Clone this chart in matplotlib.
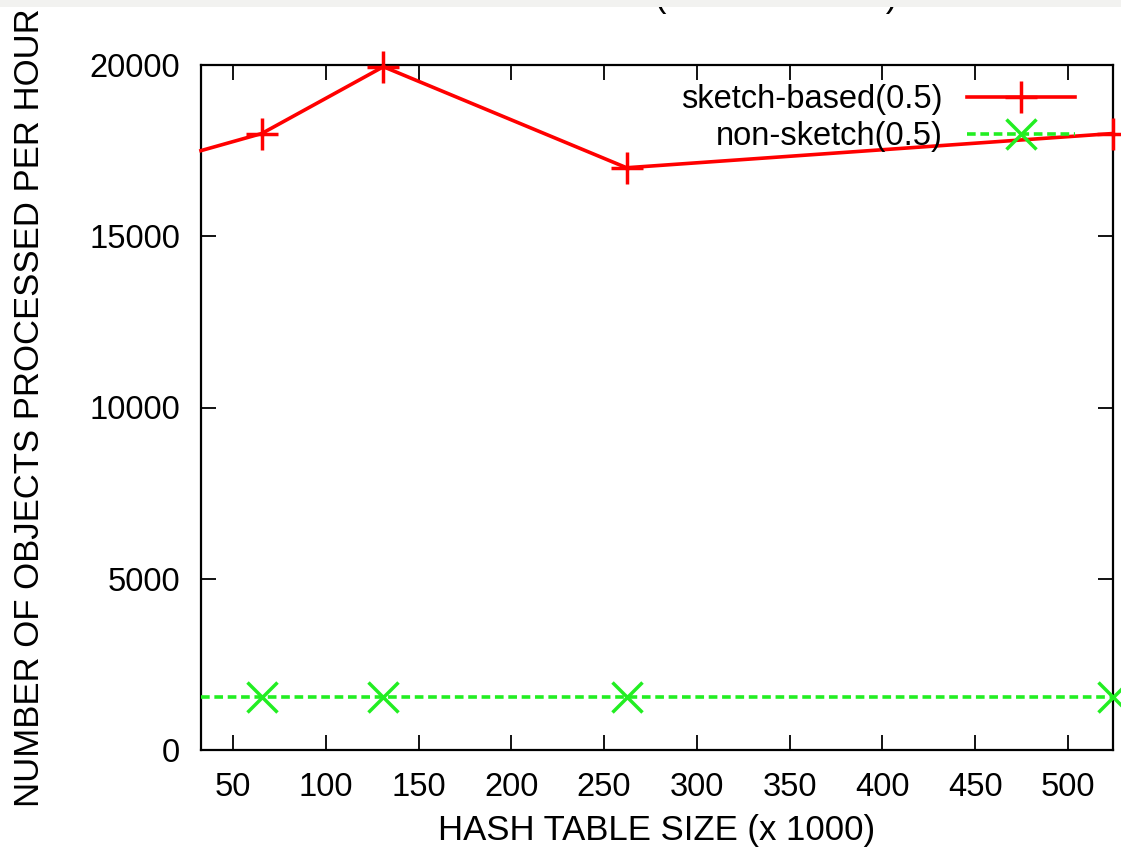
import matplotlib
matplotlib.use('Agg')
import matplotlib.pyplot as plt
from matplotlib.patches import Rectangle

## data
# hash table size (x 1000), powers of two; first entry is the left border
size = [32.768, 65.536, 131.072, 262.144, 524.288]
sketch = [17500, 18000, 19950, 17000, 18000]
non_sketch = [1550, 1550, 1550, 1550, 1550]

x_ticks = [50, 100, 150, 200, 250, 300, 350, 400, 450, 500]
y_ticks = [0, 5000, 10000, 15000, 20000]

plt.rcParams['font.family'] = ['Liberation Sans', 'DejaVu Sans']

fig = plt.figure(figsize=(11.21, 8.49), dpi=100)
ax = fig.add_axes([201/1121, 1 - 750/849, 912/1121, 685/849])

## plot!
ax.plot(size, sketch, color='#ff0000', lw=2.6, marker='+', ms=23, mew=2.5,
        markevery=[1, 2, 3, 4], label='sketch-based(0.5)', clip_on=False, zorder=3)
ax.plot(size, non_sketch, color='#22ee22', lw=2.6, ls=(0, (2.4, 1.3)), marker='x',
        ms=21, mew=2.5, markevery=[1, 2, 3, 4], label='non-sketch(0.5)',
        clip_on=False, zorder=3)

## pretty~
ax.set_xlim(32.768, 524.288)
ax.set_ylim(0, 20000)
ax.set_xticks(x_ticks)
ax.set_yticks(y_ticks)
ax.tick_params(direction='in', length=11, width=1.3, top=True, right=True,
               labelsize=23.5, colors='black')
ax.tick_params(axis='x', pad=16)
ax.tick_params(axis='y', pad=15)
for s in ax.spines.values():
    s.set_linewidth(1.6)

ax.set_xlabel('HASH TABLE SIZE (x 1000)', fontsize=25, labelpad=8)
fig.text(13/1121, 1 - 807/849, 'NUMBER OF OBJECTS PROCESSED PER HOUR',
         rotation=90, ha='left', va='bottom', fontsize=25)

ax.legend(loc='upper right', bbox_to_anchor=(0.958, 0.972), frameon=False,
          fontsize=23.5, markerfirst=False, handlelength=3.3, handletextpad=0.75,
          labelspacing=0.18, borderpad=0, borderaxespad=0, numpoints=1)

# title, mostly hidden under the top band
fig.text(897/1121, 1 - 7/849, 'THROUGHPUT (ALPHA = 0.50)', ha='right', va='baseline',
         fontsize=25, zorder=1)
fig.patches.append(Rectangle((0, 1 - 7/849), 1, 7/849, transform=fig.transFigure,
                             facecolor='#f2f2f0', edgecolor='none', zorder=5))

plt.savefig('out.png', dpi=100)
